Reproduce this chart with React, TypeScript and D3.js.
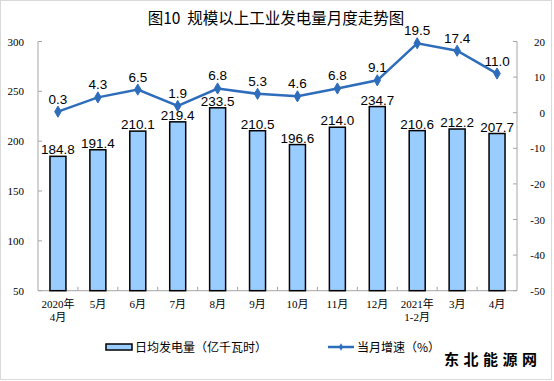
import React from "react";
import * as d3 from "d3";

const categories = ["2020年\n4月", "5月", "6月", "7月", "8月", "9月", "10月", "11月", "12月", "2021年\n1-2月", "3月", "4月"];
const output = [184.8, 191.4, 210.1, 219.4, 233.5, 210.5, 196.6, 214.0, 234.7, 210.6, 212.2, 207.7];
const growth = [0.3, 4.3, 6.5, 1.9, 6.8, 5.3, 4.6, 6.8, 9.1, 19.5, 17.4, 11.0];
const leftTicks = [50, 100, 150, 200, 250, 300];
const rightTicks = [-50, -40, -30, -20, -10, 0, 10, 20];
const title = "图10\u00a0\u00a0规模以上工业发电量月度走势图";
const legendBar = "日均发电量（亿千瓦时）";
const legendLine = "当月增速（%）";
const watermark = "东北能源网";

const W = 554, H = 381;
const left = 38, right = 517, top = 41.5, bottom = 290.7;
const lineColor = "#2e6dbb";
const axisColor = "#a6a6a6";
const cjk = "'Noto Sans CJK SC', 'Noto Sans', sans-serif";
const num = "'Liberation Sans', Arial, sans-serif";
const tickFont = "'Liberation Serif', 'Noto Sans CJK SC', serif";

export default function App() {
  const x = d3.scaleBand<number>().domain(d3.range(categories.length)).range([left, right]).paddingInner(0).paddingOuter(0);
  const yL = d3.scaleLinear().domain([50, 300]).range([bottom, top]);
  const yR = d3.scaleLinear().domain([-50, 20]).range([bottom, top]);
  const barW = 16;
  const cx = (i: number) => (x(i) as number) + x.bandwidth() / 2;
  const line = d3.line<number>().x((_, i) => cx(i)).y((d) => yR(d));
  const diamond = d3.symbol().type(d3.symbolDiamond).size(36)() as string;
  const boundaries = d3.range(1, categories.length);

  return (
    <svg width={W} height={H} style={{ position: "absolute", left: 0, top: 0, background: "#fff" }}>
      <rect x={0.5} y={0.5} width={551} height={379} fill="#fff" stroke="#d9d9d9" strokeWidth={1} />
      <text x={276} y={24} textAnchor="middle" fontFamily={cjk} fontSize={15.5} fill="#000">{title}</text>

      {/* axes */}
      <line x1={left} x2={left} y1={top} y2={bottom} stroke={axisColor} />
      <line x1={right} x2={right} y1={top} y2={bottom} stroke={axisColor} />
      <line x1={left} x2={right} y1={bottom} y2={bottom} stroke={axisColor} />
      {leftTicks.map((t) => (
        <g key={"l" + t}>
          <line x1={left} x2={left + 4} y1={yL(t)} y2={yL(t)} stroke={axisColor} />
          <text x={24} y={yL(t) + 4} textAnchor="end" fontFamily={tickFont} fontSize={11} fill="#000">{t}</text>
        </g>
      ))}
      {rightTicks.map((t) => (
        <g key={"r" + t}>
          <line x1={right - 4} x2={right} y1={yR(t)} y2={yR(t)} stroke={axisColor} />
          <text x={545} y={yR(t) + 4} textAnchor="end" fontFamily={tickFont} fontSize={11} fill="#000">{t}</text>
        </g>
      ))}
      {boundaries.map((i) => (
        <line key={"b" + i} x1={x(i) as number} x2={x(i) as number} y1={bottom - 4} y2={bottom} stroke={axisColor} />
      ))}
      {categories.map((c, i) =>
        c.split("\n").map((s, j) => (
          <text key={"c" + i + "_" + j} x={cx(i)} y={308 + j * 13} textAnchor="middle" fontFamily={tickFont} fontSize={11} fill="#000">{s}</text>
        ))
      )}

      {/* bars */}
      {output.map((v, i) => (
        <g key={"bar" + i}>
          <rect x={cx(i) - barW / 2} y={yL(v)} width={barW} height={bottom - yL(v)} fill="#99ccff" stroke="#000" strokeWidth={1.5} />
          <text x={cx(i)} y={yL(v) - 2} textAnchor="middle" fontFamily={num} fontSize={13.5} fill="#000">{v.toFixed(1)}</text>
        </g>
      ))}

      {/* line */}
      <path d={line(growth) as string} fill="none" stroke={lineColor} strokeWidth={2.5} />
      {growth.map((v, i) => (
        <g key={"pt" + i}>
          <path d={diamond} transform={`translate(${cx(i)},${yR(v)})`} fill={lineColor} stroke={lineColor} />
          <text x={cx(i)} y={yR(v) - 8} textAnchor="middle" fontFamily={num} fontSize={13.5} fill="#000">{v.toFixed(1)}</text>
        </g>
      ))}

      {/* legend */}
      <rect x={106} y={344} width={26} height={6} fill="#99ccff" stroke="#000" strokeWidth={1.5} />
      <text x={135} y={352} fontFamily={cjk} fontSize={12} fill="#000">{legendBar}</text>
      <line x1={328} x2={354} y1={347} y2={347} stroke={lineColor} strokeWidth={2.5} />
      <path d={d3.symbol().type(d3.symbolDiamond).size(16)() as string} transform="translate(341,347)" fill={lineColor} />
      <text x={357} y={352} fontFamily={cjk} fontSize={12} fill="#000">{legendLine}</text>
      <text x={444} y={365} fontFamily={cjk} fontSize={15} fontWeight="bold" letterSpacing={4.5} fill="#000">{watermark}</text>
    </svg>
  );
}
